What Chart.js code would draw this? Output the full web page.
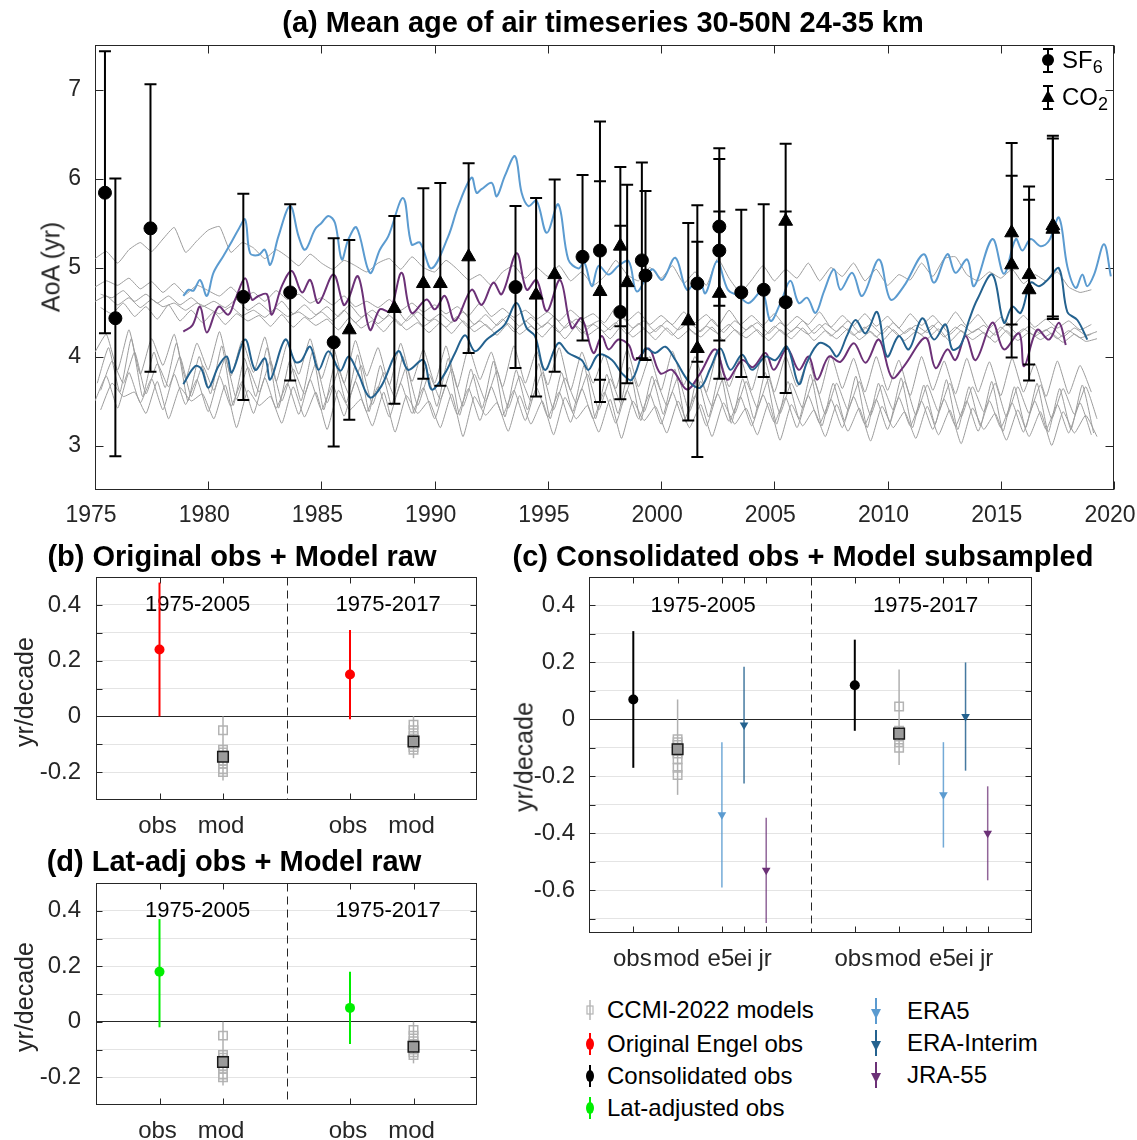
<!DOCTYPE html>
<html>
<head>
<meta charset="utf-8">
<title>Mean age of air timeseries</title>
<script src="https://cdn.jsdelivr.net/npm/chart.js@4.4.1/dist/chart.umd.min.js"></script>
<style>
  html, body { margin: 0; padding: 0; background: #fff; }
  body { position: relative; width: 1137px; height: 1140px; overflow: hidden; font-family: "Liberation Sans", Arial, sans-serif; }
  canvas { position: absolute; }
  .txt { position: absolute; white-space: nowrap; color: #000; line-height: 1; }
  .ttl { font-weight: bold; font-size: 29px; transform: translate(-50%, -50%); }
  .ylab { font-size: 25px; color: #262626; transform: translate(-50%, -50%) rotate(-90deg); }
  .leg { font-size: 24px; transform: translateY(-50%); }
  .leg sub { font-size: 18px; }
  svg.sym { position: absolute; overflow: visible; width: 1px; height: 1px; }
</style>
</head>
<body>
<canvas id="chartA"></canvas>
<canvas id="chartB"></canvas>
<canvas id="chartC"></canvas>
<canvas id="chartD"></canvas>

<div class="txt ttl" style="left:603px;top:22px">(a) Mean age of air timeseries 30-50N 24-35 km</div>
<div class="txt ttl" style="left:242px;top:556px">(b) Original obs + Model raw</div>
<div class="txt ttl" style="left:803px;top:556px">(c) Consolidated obs + Model subsampled</div>
<div class="txt ttl" style="left:234px;top:861px">(d) Lat-adj obs + Model raw</div>

<div class="txt ylab" style="left:51px;top:267px">AoA (yr)</div>
<div class="txt ylab" style="left:24px;top:692px">yr/decade</div>
<div class="txt ylab" style="left:524px;top:757px">yr/decade</div>
<div class="txt ylab" style="left:24px;top:997px">yr/decade</div>

<!-- legend of panel (a) -->
<svg class="sym" style="left:1048px;top:60px"><path d="M0,-11V12M-5,-11H5M-5,12H5" stroke="#000" stroke-width="2"/><circle r="6" fill="#000"/></svg>
<div class="txt leg" style="left:1062px;top:62px">SF<sub>6</sub></div>
<svg class="sym" style="left:1048px;top:97px"><path d="M0,-11V12M-5,-11H5M-5,12H5" stroke="#000" stroke-width="2"/><path d="M0,-7L6.5,5H-6.5Z" fill="#000"/></svg>
<div class="txt leg" style="left:1062px;top:99px">CO<sub>2</sub></div>

<!-- legend of the trend panels -->
<svg class="sym" style="left:590px;top:1010px"><path d="M0,-10V10" stroke="#b4b4b4" stroke-width="1.5"/><rect x="-3" y="-4" width="6" height="8" fill="none" stroke="#b4b4b4" stroke-width="1.2"/></svg>
<div class="txt leg" style="left:607px;top:1010px">CCMI-2022 models</div>
<svg class="sym" style="left:590px;top:1044px"><path d="M0,-11V11" stroke="#ff0000" stroke-width="2"/><ellipse rx="4" ry="6" fill="#ff0000"/></svg>
<div class="txt leg" style="left:607px;top:1044px">Original Engel obs</div>
<svg class="sym" style="left:590px;top:1076px"><path d="M0,-11V11" stroke="#000" stroke-width="2"/><ellipse rx="4" ry="6" fill="#000"/></svg>
<div class="txt leg" style="left:607px;top:1076px">Consolidated obs</div>
<svg class="sym" style="left:590px;top:1108px"><path d="M0,-11V11" stroke="#00ee00" stroke-width="2"/><ellipse rx="4" ry="6" fill="#00ee00"/></svg>
<div class="txt leg" style="left:607px;top:1108px">Lat-adjusted obs</div>
<svg class="sym" style="left:876px;top:1011px"><path d="M0,-13V13" stroke="#5b9bd0" stroke-width="2"/><path d="M-5,-2H5L0,8Z" fill="#5b9bd0"/></svg>
<div class="txt leg" style="left:907px;top:1011px">ERA5</div>
<svg class="sym" style="left:876px;top:1043px"><path d="M0,-13V13" stroke="#24628f" stroke-width="2"/><path d="M-5,-2H5L0,8Z" fill="#24628f"/></svg>
<div class="txt leg" style="left:907px;top:1043px">ERA-Interim</div>
<svg class="sym" style="left:876px;top:1075px"><path d="M0,-13V13" stroke="#6c3177" stroke-width="2"/><path d="M-5,-2H5L0,8Z" fill="#6c3177"/></svg>
<div class="txt leg" style="left:907px;top:1075px">JRA-55</div>

<script>
const FONT = '"Liberation Sans", Arial, sans-serif';
const TICK = '#262626';

// ---- panel (a): observed age of air ----
const sf6Year = [1975.44,1975.9,1977.45,1981.55,1983.62,1985.54,1993.57,1996.53,1997.3,1998.2,1999.15,1999.31,2001.6,2002.57,2002.57,2003.54,2004.53,2005.5];
const sf6Age  = [5.84,4.43,5.44,4.67,4.72,4.16,4.78,5.12,5.19,4.50,5.08,4.91,4.82,5.46,5.19,4.72,4.75,4.61];
const sf6Lo   = [4.26,2.88,3.83,3.51,3.73,2.99,3.87,4.18,3.74,3.52,3.98,3.96,3.94,4.57,4.18,3.77,3.77,3.59];
const sf6Hi   = [7.43,6.00,7.06,5.83,5.71,5.33,5.69,6.04,6.64,5.47,6.18,5.86,5.70,6.34,6.22,5.65,5.71,5.63];

const co2Year = [1986.23,1988.22,1989.5,1990.25,1991.5,1994.48,1995.3,1997.3,1998.2,1998.5,2001.2,2001.6,2002.57,2005.5,2015.48,2015.48,2016.25,2016.25,2017.3,2017.3];
const co2Age  = [4.30,4.54,4.82,4.82,5.12,4.69,4.92,4.73,5.24,4.83,4.40,4.09,4.71,5.52,5.39,5.03,4.92,4.75,5.47,5.43];
const co2Lo   = [3.29,3.47,3.75,3.67,4.04,3.55,3.83,3.49,4.34,3.70,3.28,2.87,3.75,4.65,4.36,3.99,3.91,3.73,4.45,4.42];
const co2Hi   = [5.31,5.58,5.89,5.95,6.17,5.78,5.99,5.97,6.13,5.93,5.50,5.29,5.63,6.39,6.40,6.03,5.91,5.76,6.48,6.45];

// ---- panel (a): reanalyses ----
const era5Year = [1978.9,1979.13,1979.35,1979.64,1979.94,1980.23,1980.67,1980.97,1981.34,1981.63,1981.85,1982.22,1982.5,1982.74,1983.1,1983.62,1983.99,1984.28,1984.72,1985.0,1985.31,1985.6,1985.9,1986.18,1986.55,1987.14,1987.58,1987.95,1988.61,1988.98,1989.35,1989.86,1990.6,1991.04,1991.63,1991.85,1992.07,1992.52,1992.74,1993.1,1993.55,1993.84,1994.14,1994.5,1994.95,1995.46,1995.9,1996.35,1996.6,1996.94,1997.24,1997.68,1998.12,1998.57,1998.93,1999.6,2000.04,2000.63,2001.14,2001.66,2001.96,2002.47,2002.95,2003.43,2003.87,2004.46,2004.83,2005.27,2005.71,2006.08,2006.45,2006.82,2007.19,2007.63,2007.92,2008.44,2008.88,2009.62,2010.13,2010.72,2011.6,2012.05,2012.64,2013.0,2013.52,2013.82,2014.63,2015.14,2015.66,2015.95,2016.32,2016.76,2017.13,2017.57,2017.94,2018.31,2018.6,2018.82,2019.12,2019.56,2019.86];
const era5Age  = [4.68,4.75,4.74,4.86,4.68,4.94,5.13,5.26,5.43,5.54,5.16,5.14,5.2,5.03,5.35,5.69,5.35,5.20,5.43,5.5,5.58,5.5,5.09,5.31,5.45,4.94,5.2,5.35,5.78,5.26,5.28,4.99,5.35,5.69,6.01,5.84,5.88,5.95,5.8,6.03,6.25,5.84,5.69,5.75,5.39,5.71,5.09,4.99,5.06,4.79,5.02,4.92,5.02,5.07,4.73,4.98,4.86,5.11,4.75,4.88,4.71,5.07,4.75,4.68,4.6,4.73,4.4,4.6,4.85,4.6,4.66,4.49,4.73,4.98,4.75,4.94,4.68,5.09,4.64,4.79,5.15,4.83,5.15,4.94,5.09,4.79,5.32,4.93,5.32,5.19,5.32,5.24,5.3,5.56,5.01,4.77,4.92,4.79,4.92,5.26,4.9];

const eraiYear = [1978.9,1979.42,1979.7,1980.01,1980.45,1980.82,1981.04,1981.63,1982.07,1982.51,1982.74,1983.4,1983.84,1984.1,1984.5,1984.87,1985.31,1985.83,1986.2,1986.62,1987.14,1987.65,1988.39,1988.83,1989.5,1989.86,1990.45,1990.9,1991.34,1991.78,1992.3,1992.66,1993.1,1993.62,1994.06,1994.43,1994.87,1995.46,1995.9,1996.49,1996.79,1997.23,1997.83,1998.27,1998.71,1999.3,1999.74,2000.19,2000.63,2001.22,2001.73,2002.18,2002.62,2003.06,2003.58,2004.02,2004.61,2005.05,2005.56,2006.08,2006.45,2006.97,2007.41,2007.77,2008.22,2008.59,2009.03,2009.54,2009.98,2010.5,2010.94,2011.53,2012.05,2012.56,2012.86,2013.23,2013.6,2013.96,2014.63,2015.14,2015.51,2015.88,2016.32,2016.69,2017.06,2017.57,2017.94,2018.38,2018.82];
const eraiAge  = [3.69,3.89,3.86,3.65,3.89,4.0,3.82,4.19,3.85,3.98,3.74,4.19,3.94,3.95,4.11,3.85,4.06,3.84,4.0,3.81,3.54,3.67,4.06,3.85,3.96,3.63,3.81,4.04,4.24,4.06,4.19,4.26,4.36,4.6,4.32,4.23,3.85,4.15,4.04,3.96,3.85,4.02,3.96,3.81,3.74,4.09,4.04,4.11,3.96,3.72,3.65,3.87,4.09,3.85,4.02,3.85,4.0,3.96,4.11,3.69,3.94,4.15,4.11,4.0,4.24,4.41,4.26,4.5,4.0,4.23,4.08,4.43,4.19,4.36,4.08,4.13,4.41,4.64,4.92,4.38,4.56,4.49,4.83,4.79,4.86,4.99,4.5,4.41,4.19];

const jraYear = [1978.9,1979.3,1979.64,1979.94,1980.45,1980.89,1981.19,1981.63,1981.93,1982.22,1982.59,1982.81,1983.25,1983.69,1984.14,1984.5,1984.87,1985.53,1985.98,1986.18,1986.62,1987.14,1987.58,1988.02,1988.54,1988.98,1989.64,1990.01,1990.45,1990.9,1991.63,1992.07,1992.59,1992.96,1993.62,1994.06,1994.5,1994.95,1995.54,1996.05,1996.49,1997.01,1997.38,1997.68,1998.12,1998.57,1998.86,1999.45,1999.97,2000.48,2001.14,2001.7,2002.4,2002.91,2003.58,2004.05,2004.61,2004.98,2005.56,2006.08,2006.52,2006.89,2007.41,2007.92,2008.51,2009.03,2009.62,2010.2,2010.72,2011.68,2012.12,2012.64,2013.0,2013.45,2013.89,2014.63,2015.14,2015.81,2016.03,2016.61,2017.13,2017.57,2017.87];
const jraAge  = [4.28,4.35,4.56,4.27,4.56,4.47,4.64,4.88,4.64,4.68,4.7,4.47,4.79,4.96,4.72,4.86,4.6,4.92,4.58,4.64,4.90,4.3,4.53,4.51,4.94,4.49,4.64,4.53,4.68,4.4,4.75,4.58,4.83,4.7,5.16,4.75,4.86,4.51,4.86,4.32,4.43,4.04,4.23,4.08,4.19,4.13,3.96,4.09,3.81,3.85,3.63,3.8,4.08,3.74,3.96,3.88,4.04,3.85,4.09,3.85,4.0,3.74,4.0,3.94,4.15,3.93,4.19,3.76,3.89,4.21,3.87,4.08,3.96,4.23,3.96,4.38,4.08,4.26,3.89,4.3,4.19,4.38,4.13];

// ---- panel (a): CCMI-2022 models, half-yearly from 1975 ----
const modelStart = 1975, modelStep = 0.5;
const modT  = [5.10,5.18,5.05,5.20,5.28,5.18,5.32,5.45,5.17,5.30, 5.42,5.46,5.17,5.28,5.22,5.10,5.20,5.12,5.02,5.15, 5.05,4.98,5.08,5.02,4.95,5.05,5.10,4.98,5.12,5.00, 4.95,5.08,4.98,4.86,4.92,4.80,4.95,5.02,4.88,5.00, 4.90,5.02,4.85,4.95,4.80,4.90,5.08,4.92,4.85,5.00, 4.88,5.02,4.82,4.95,4.80,5.10,4.88,4.72,4.86,5.02, 4.85,4.98,4.88,5.05,4.85,5.00,4.90,5.05,4.85,4.98, 4.80,4.92,4.86,5.05,4.90,5.10,5.12,4.92,4.85,4.95, 4.88,4.98,4.82,4.92,4.85,4.95,4.78,4.72,4.75];
const modU1 = [4.78,4.85,4.80,4.88,4.76,4.84,4.72,4.82,4.70,4.80, 4.74,4.68,4.78,4.66,4.72,4.62,4.74,4.64,4.70,4.60, 4.66,4.58,4.68,4.56,4.62,4.55,4.64,4.52,4.60,4.50, 4.58,4.48,4.56,4.46,4.60,4.45,4.54,4.44,4.52,4.42, 4.50,4.40,4.52,4.42,4.48,4.38,4.55,4.40,4.50,4.36, 4.46,4.36,4.50,4.38,4.47,4.34,4.52,4.36,4.46,4.35, 4.48,4.34,4.45,4.36,4.50,4.33,4.46,4.35,4.48,4.34, 4.45,4.32,4.48,4.35,4.46,4.33,4.50,4.34,4.47,4.32, 4.44,4.34,4.46,4.33,4.42,4.32,4.40,4.30,4.36];
const modU2 = [4.70,4.66,4.74,4.62,4.70,4.60,4.68,4.58,4.66,4.56, 4.62,4.55,4.64,4.52,4.60,4.50,4.62,4.48,4.58,4.47, 4.56,4.45,4.58,4.44,4.52,4.42,4.55,4.40,4.50,4.40, 4.48,4.38,4.50,4.36,4.47,4.35,4.46,4.34,4.44,4.33, 4.45,4.32,4.42,4.34,4.40,4.30,4.44,4.32,4.40,4.28, 4.40,4.30,4.38,4.28,4.42,4.27,4.40,4.30,4.38,4.26, 4.38,4.28,4.40,4.26,4.37,4.28,4.40,4.27,4.36,4.25, 4.38,4.26,4.35,4.27,4.39,4.25,4.36,4.27,4.35,4.24, 4.36,4.25,4.34,4.26,4.33,4.22,4.32,4.24,4.28];
const modU3 = [4.62,4.68,4.58,4.66,4.55,4.64,4.56,4.60,4.52,4.60, 4.54,4.48,4.56,4.46,4.52,4.44,4.54,4.45,4.50,4.42, 4.50,4.40,4.52,4.38,4.48,4.37,4.46,4.35,4.48,4.34, 4.42,4.33,4.45,4.32,4.40,4.30,4.42,4.28,4.40,4.30, 4.38,4.27,4.40,4.26,4.36,4.28,4.38,4.25,4.37,4.26, 4.35,4.24,4.38,4.25,4.34,4.26,4.36,4.24,4.35,4.22, 4.34,4.24,4.33,4.25,4.36,4.23,4.34,4.24,4.33,4.22, 4.34,4.23,4.32,4.25,4.35,4.22,4.33,4.24,4.31,4.21, 4.33,4.22,4.31,4.23,4.30,4.20,4.29,4.21,4.25];
const modU4 = [4.55,4.48,4.60,4.45,4.56,4.42,4.58,4.40,4.52,4.38, 4.50,4.36,4.48,4.40,4.46,4.34,4.47,4.33,4.44,4.35, 4.42,4.30,4.44,4.32,4.40,4.28,4.42,4.30,4.38,4.27, 4.38,4.26,4.40,4.28,4.36,4.24,4.37,4.25,4.34,4.22, 4.35,4.20,4.34,4.24,4.32,4.20,4.34,4.22,4.31,4.19, 4.32,4.20,4.30,4.22,4.33,4.18,4.30,4.21,4.30,4.18, 4.30,4.20,4.32,4.18,4.29,4.20,4.31,4.19,4.28,4.17, 4.30,4.18,4.28,4.20,4.31,4.17,4.29,4.19,4.27,4.16, 4.29,4.18,4.27,4.19,4.26,4.16,4.25,4.17,4.20];
const modL1 = [4.05,4.25,3.85,4.30,3.80,4.20,3.90,4.25,3.75,4.15, 3.85,4.28,3.78,4.18,3.82,4.22,3.72,4.15,3.80,4.20, 3.75,4.12,3.70,4.18,3.78,4.10,3.68,4.15,3.72,4.08, 3.70,4.12,3.65,4.10,3.74,4.05,3.66,4.12,3.70,4.06, 3.68,4.10,3.62,4.05,3.70,4.02,3.64,4.08,3.66,4.00, 3.62,4.06,3.68,4.00,3.60,4.05,3.66,3.98,3.62,4.04, 3.60,4.00,3.66,3.96,3.58,4.02,3.64,3.98,3.60,4.00, 3.62,3.96,3.56,4.00,3.62,3.95,3.58,3.98,3.60,3.94, 3.56,3.98,3.60,3.92,3.55,3.95,3.58,3.90,3.60];
const modL2 = [3.62,3.95,3.70,4.05,3.58,3.92,3.66,4.00,3.55,3.90, 3.62,3.98,3.52,3.88,3.60,3.95,3.50,3.86,3.58,3.92, 3.48,3.84,3.56,3.90,3.46,3.82,3.54,3.88,3.45,3.80, 3.52,3.86,3.44,3.80,3.50,3.84,3.42,3.78,3.50,3.82, 3.40,3.76,3.48,3.80,3.40,3.75,3.46,3.78,3.38,3.74, 3.45,3.77,3.38,3.72,3.44,3.76,3.36,3.72,3.42,3.75, 3.36,3.70,3.42,3.74,3.35,3.70,3.40,3.72,3.34,3.68, 3.40,3.72,3.34,3.68,3.38,3.70,3.32,3.66,3.38,3.70, 3.32,3.66,3.36,3.68,3.30,3.64,3.35,3.66,3.30];
const modL3 = [3.50,3.78,3.42,3.82,3.48,3.75,3.40,3.80,3.46,3.74, 3.38,3.78,3.44,3.72,3.36,3.76,3.42,3.70,3.35,3.74, 3.40,3.68,3.33,3.72,3.38,3.66,3.32,3.70,3.36,3.65, 3.30,3.68,3.35,3.64,3.28,3.66,3.34,3.62,3.28,3.65, 3.32,3.60,3.26,3.64,3.30,3.60,3.25,3.62,3.30,3.58, 3.24,3.60,3.28,3.56,3.22,3.58,3.27,3.55,3.22,3.57, 3.26,3.54,3.20,3.56,3.25,3.52,3.20,3.55,3.24,3.52, 3.18,3.54,3.22,3.50,3.18,3.52,3.22,3.50,3.16,3.50, 3.20,3.48,3.15,3.50,3.18,3.46,3.14,3.48,3.12];
const modL4 = [3.40,3.70,3.55,3.60,3.36,3.72,3.30,3.65,3.50,3.58, 3.30,3.68,3.20,3.62,3.45,3.55,3.25,3.66,3.32,3.60, 3.18,3.62,3.40,3.52,3.22,3.60,3.15,3.56,3.36,3.50, 3.20,3.58,3.10,3.55,3.34,3.48,3.16,3.56,3.24,3.50, 3.12,3.54,3.30,3.45,3.15,3.52,3.08,3.50,3.28,3.44, 3.14,3.50,3.20,3.46,3.10,3.48,3.24,3.42,3.12,3.48, 3.06,3.46,3.22,3.40,3.10,3.46,3.16,3.42,3.05,3.44, 3.20,3.38,3.08,3.44,3.12,3.40,3.02,3.42,3.18,3.36, 3.06,3.40,3.10,3.38,3.00,3.38,3.14,3.34,3.10];
const modL5 = [3.70,4.10,3.60,4.20,3.55,4.05,3.65,4.15,3.50,4.00, 3.58,4.12,3.45,3.98,3.55,4.10,3.42,3.95,3.50,4.05, 3.40,3.92,3.48,4.02,3.38,3.90,3.45,4.00,3.36,3.88, 3.44,3.98,3.34,3.86,3.42,3.95,3.32,3.85,3.40,3.92, 3.30,3.82,3.38,3.90,3.30,3.80,3.36,3.88,3.28,3.78, 3.35,3.86,3.26,3.76,3.32,3.84,3.25,3.75,3.30,3.82, 3.24,3.72,3.30,3.80,3.22,3.70,3.28,3.78,3.20,3.70, 3.26,3.76,3.20,3.68,3.24,3.74,3.18,3.66,3.22,3.72, 3.16,3.66,3.20,3.70,3.15,3.64,3.18,3.68,3.14];
const modelLines = [modT, modU1, modU2, modU3, modU4, modL1, modL2, modL3, modL4, modL5];
const modelShift = [0, 0, 0.25, 0, 0.25, 0, 0.25, 0, 0.25, 0.1];

const yearTicks = [1975,1980,1985,1990,1995,2000,2005,2010,2015,2020];
const ageTicks = [3,4,5,6,7];

// ---- trend panels (b), (c), (d): yr/decade, [1975-2005, 1975-2017] ----
const posObsBD = [1, 4], posModBD = [2, 5];
const tickPosBD = [1, 2, 4, 5];
const tickLabBD = ['obs', 'mod', 'obs', 'mod'];
const trendTicksBD = [-0.2,-0.1,0,0.1,0.2,0.3,0.4];

const obsOrig = [0.24, 0.15], obsOrigLo = [0.0, -0.01], obsOrigHi = [0.48, 0.31];
const obsLat  = [0.18, 0.05], obsLatLo = [-0.02, -0.08], obsLatHi = [0.37, 0.18];
const modRaw  = [-0.145, -0.09], modRawLo = [-0.23, -0.15], modRawHi = [0.0, 0.0];
const modRaw2005 = [-0.05,-0.12,-0.13,-0.14,-0.16,-0.17,-0.19,-0.20];
const modRaw2017 = [-0.03,-0.05,-0.07,-0.08,-0.10,-0.11,-0.12];

const posC = {obs: [2, 12], mod: [4, 14], e5: [6, 16], ei: [7, 17], jr: [8, 18]};
const tickPosC = [2, 4, 6, 7, 8, 12, 14, 16, 17, 18];
const tickLabC = ['obs','mod','e5','ei','jr','obs','mod','e5','ei','jr'];
const trendTicksC = [-0.7,-0.6,-0.5,-0.4,-0.3,-0.2,-0.1,0,0.1,0.2,0.3,0.4];

const obsCons = [0.07, 0.12], obsConsLo = [-0.17, -0.04], obsConsHi = [0.31, 0.28];
const modSub  = [-0.105, -0.05], modSubLo = [-0.265, -0.16], modSubHi = [0.07, 0.175];
const modSub2005 = [-0.07,-0.08,-0.09,-0.12,-0.14,-0.17,-0.195];
const modSub2017 = [0.045,-0.04,-0.06,-0.08,-0.10];
const era5Trend = [-0.335, -0.265], era5TrendLo = [-0.59, -0.45], era5TrendHi = [-0.08, -0.08];
const eraiTrend = [-0.02, 0.01], eraiTrendLo = [-0.225, -0.18], eraiTrendHi = [0.185, 0.2];
const jraTrend  = [-0.53, -0.40], jraTrendLo = [-0.715, -0.565], jraTrendHi = [-0.345, -0.235];

const C_ERA5 = '#5b9bd0', C_ERAI = '#24628f', C_JRA = '#6c3177', C_GRAY = '#9c9c9c';

// error bars drawn just under each dataset's own markers
Chart.register({
  id: 'errbars',
  beforeDatasetDraw(chart, args) {
    const ds = chart.data.datasets[args.index];
    if (!ds.errLo) return;
    const ctx = chart.ctx, ys = chart.scales.y, cap = ds.errCap || 0;
    ctx.save();
    ctx.strokeStyle = ds.errColor;
    ctx.lineWidth = ds.errWidth || 2;
    args.meta.data.forEach((p, i) => {
      const y0 = ys.getPixelForValue(ds.errLo[i]), y1 = ys.getPixelForValue(ds.errHi[i]);
      ctx.beginPath();
      ctx.moveTo(p.x, y0); ctx.lineTo(p.x, y1);
      if (cap) {
        ctx.moveTo(p.x - cap, y0); ctx.lineTo(p.x + cap, y0);
        ctx.moveTo(p.x - cap, y1); ctx.lineTo(p.x + cap, y1);
      }
      ctx.stroke();
    });
    ctx.restore();
  }
});

// matlab style box: frame, inward ticks, dashed divider, period text
function framePlugin(o) {
  return {
    id: 'frame',
    beforeDatasetsDraw(chart) {
      const {ctx, chartArea: a, scales: {x, y}} = chart;
      const L = Math.round(a.left) + 0.5, R = Math.round(a.right) - 0.5;
      const T = Math.round(a.top) + 0.5, B = Math.round(a.bottom) - 0.5;
      ctx.save();
      ctx.strokeStyle = TICK; ctx.lineWidth = 1;
      ctx.strokeRect(L, T, R - L, B - T);
      ctx.beginPath();
      o.xTicks.forEach(v => {
        const px = Math.round(x.getPixelForValue(v)) + 0.5;
        ctx.moveTo(px, B); ctx.lineTo(px, B - o.len);
        ctx.moveTo(px, T); ctx.lineTo(px, T + o.len);
      });
      o.yTicks.forEach(v => {
        const py = Math.round(y.getPixelForValue(v)) + 0.5;
        ctx.moveTo(L, py); ctx.lineTo(L + o.len, py);
        ctx.moveTo(R, py); ctx.lineTo(R - o.len, py);
      });
      ctx.stroke();
      if (o.divider !== undefined) {
        const px = Math.round(x.getPixelForValue(o.divider)) + 0.5;
        ctx.setLineDash([8, 5]);
        ctx.beginPath(); ctx.moveTo(px, T); ctx.lineTo(px, B); ctx.stroke();
        ctx.setLineDash([]);
      }
      (o.notes || []).forEach(n => {
        ctx.fillStyle = '#000';
        ctx.font = '22px ' + FONT;
        ctx.textAlign = 'center'; ctx.textBaseline = 'middle';
        ctx.fillText(n.text, x.getPixelForValue(n.x), y.getPixelForValue(n.y));
      });
      ctx.restore();
    }
  };
}

// canvas is a bit larger than the plot so chart.js label overhang never moves the plot area
function placeCanvas(id, box, area) {
  const cv = document.getElementById(id);
  cv.width = box.w; cv.height = box.h;
  cv.style.left = box.x + 'px'; cv.style.top = box.y + 'px';
  return {
    cv,
    padding: {left: 0, top: area.t - box.y, right: box.x + box.w - area.r, bottom: 0},
    yWidth: area.l - box.x,
    xHeight: box.y + box.h - area.b
  };
}

function makeOptions(g, xs, ys) {
  return {
    responsive: false, animation: false, devicePixelRatio: 1,
    layout: {padding: g.padding},
    plugins: {legend: {display: false}, tooltip: {enabled: false}},
    scales: {
      x: {
        type: 'linear', min: xs.min, max: xs.max,
        afterFit: s => { s.height = g.xHeight; },
        afterBuildTicks: s => { s.ticks = xs.ticks.map(v => ({value: v})); },
        grid: {display: false, drawTicks: false}, border: {display: false},
        ticks: {autoSkip: false, maxRotation: 0, padding: xs.pad, labelOffset: xs.shift || 0, color: TICK,
          font: {family: FONT, size: xs.size || 24}, callback: xs.label}
      },
      y: {
        type: 'linear', min: ys.min, max: ys.max,
        afterFit: s => { s.width = g.yWidth; },
        afterBuildTicks: s => { s.ticks = ys.ticks.map(v => ({value: v})); },
        grid: ys.grid || {display: false, drawTicks: false}, border: {display: false},
        ticks: {autoSkip: false, padding: ys.pad, color: TICK, font: {family: FONT, size: ys.size || 24}, callback: ys.label}
      }
    }
  };
}

// ---------- panel (a) ----------
(function () {
  const g = placeCanvas('chartA', {x: 0, y: 0, w: 1165, h: 540}, {l: 95, t: 45, r: 1114, b: 490});
  const datasets = [];
  modelLines.forEach((vals, k) => {
    datasets.push({
      data: vals.map((v, i) => ({x: modelStart + modelShift[k] + i * modelStep, y: v})),
      borderColor: C_GRAY, borderWidth: 1, pointRadius: 0, tension: 0.15, order: 10
    });
  });
  [[era5Year, era5Age, C_ERA5], [eraiYear, eraiAge, C_ERAI], [jraYear, jraAge, C_JRA]].forEach(([yr, age, c]) => {
    datasets.push({
      data: yr.map((x, i) => ({x, y: age[i]})),
      borderColor: c, borderWidth: 2, pointRadius: 0, tension: 0.35, order: 5
    });
  });
  datasets.push({
    data: sf6Year.map((x, i) => ({x, y: sf6Age[i]})), showLine: false,
    pointStyle: 'circle', pointRadius: 6.5, pointBackgroundColor: '#000', pointBorderColor: '#000', pointBorderWidth: 1,
    errLo: sf6Lo, errHi: sf6Hi, errColor: '#000', errWidth: 2, errCap: 6, order: 1
  });
  datasets.push({
    data: co2Year.map((x, i) => ({x, y: co2Age[i]})), showLine: false,
    pointStyle: 'triangle', pointRadius: 8, pointBackgroundColor: '#000', pointBorderColor: '#000', pointBorderWidth: 1,
    errLo: co2Lo, errHi: co2Hi, errColor: '#000', errWidth: 2, errCap: 6, order: 1
  });
  const opts = makeOptions(g,
    {min: 1975, max: 2020, ticks: yearTicks, pad: 12, shift: -4, size: 23, label: v => String(v)},
    {min: 2.5, max: 7.5, ticks: ageTicks, pad: 14, size: 23, label: v => String(v)});
  new Chart(g.cv, {type: 'line', data: {datasets}, options: opts,
    plugins: [framePlugin({xTicks: yearTicks, yTicks: ageTicks, len: 8})]});
})();

// ---------- trend panels ----------
function obsSet(xs, vals, lo, hi, color) {
  return {
    data: xs.map((x, i) => ({x, y: vals[i]})), showLine: false,
    pointStyle: 'circle', pointRadius: 5, pointBackgroundColor: color, pointBorderColor: color, pointBorderWidth: 0,
    errLo: lo, errHi: hi, errColor: color, errWidth: 2, order: 1
  };
}
function modelSets(xs, mean, lo, hi, each2005, each2017) {
  const one = (x, vals) => ({
    data: vals.map(v => ({x, y: v})), showLine: false,
    pointStyle: 'rect', pointRadius: 6, pointBackgroundColor: 'rgba(0,0,0,0)', pointBorderColor: '#b4b4b4', pointBorderWidth: 1.5,
    order: 3
  });
  return [
    one(xs[0], each2005), one(xs[1], each2017),
    {
      data: xs.map((x, i) => ({x, y: mean[i]})), showLine: false,
      pointStyle: 'rect', pointRadius: 7.5, pointBackgroundColor: '#9b9b9b', pointBorderColor: '#1a1a1a', pointBorderWidth: 1.5,
      errLo: lo, errHi: hi, errColor: '#b0b0b0', errWidth: 1.5, order: 2
    }
  ];
}
function reanSet(xs, vals, lo, hi, color, lineColor) {
  return {
    data: xs.map((x, i) => ({x, y: vals[i]})), showLine: false,
    pointStyle: 'triangle', pointRotation: 180, pointRadius: 5, pointBackgroundColor: color, pointBorderColor: color, pointBorderWidth: 0,
    errLo: lo, errHi: hi, errColor: lineColor, errWidth: 1.5, order: 1
  };
}
const trendLabel = v => (Math.round(v * 10) % 2 === 0 ? String(Math.round(v * 10) / 10) : '');
const trendGrid = {display: true, drawTicks: false, lineWidth: 1,
  color: c => (c.tick && Math.abs(c.tick.value) < 1e-9 ? '#262626' : '#e4e4e4')};

function makeTrendBD(id, box, area, obs, obsLo, obsHi, color) {
  const g = placeCanvas(id, box, area);
  const datasets = [obsSet(posObsBD, obs, obsLo, obsHi, color)]
    .concat(modelSets(posModBD, modRaw, modRawLo, modRawHi, modRaw2005, modRaw2017));
  const opts = makeOptions(g,
    {min: 0, max: 6, ticks: tickPosBD, pad: 12, shift: -2, label: (v, i) => tickLabBD[i]},
    {min: -0.3, max: 0.5, ticks: trendTicksBD, pad: 15, label: trendLabel, grid: trendGrid});
  new Chart(g.cv, {type: 'line', data: {datasets}, options: opts,
    plugins: [framePlugin({xTicks: tickPosBD, yTicks: trendTicksBD, len: 6, divider: 3,
      notes: [{x: 1.6, y: 0.4, text: '1975-2005'}, {x: 4.6, y: 0.4, text: '1975-2017'}]})]});
}

makeTrendBD('chartB', {x: 0, y: 537, w: 500, h: 309}, {l: 96, t: 577, r: 477, b: 800}, obsOrig, obsOrigLo, obsOrigHi, '#ff0000');
makeTrendBD('chartD', {x: 0, y: 843, w: 500, h: 297}, {l: 96, t: 883, r: 477, b: 1105}, obsLat, obsLatLo, obsLatHi, '#00ee00');

(function () {
  const g = placeCanvas('chartC', {x: 500, y: 537, w: 637, h: 443}, {l: 589, t: 577, r: 1032, b: 933});
  const datasets = [
    obsSet(posC.obs, obsCons, obsConsLo, obsConsHi, '#000'),
    reanSet(posC.e5, era5Trend, era5TrendLo, era5TrendHi, C_ERA5, 'rgba(91,155,208,0.85)'),
    reanSet(posC.ei, eraiTrend, eraiTrendLo, eraiTrendHi, C_ERAI, 'rgba(36,98,143,0.85)'),
    reanSet(posC.jr, jraTrend, jraTrendLo, jraTrendHi, C_JRA, 'rgba(108,49,119,0.75)')
  ].concat(modelSets(posC.mod, modSub, modSubLo, modSubHi, modSub2005, modSub2017));
  const opts = makeOptions(g,
    {min: 0, max: 20, ticks: tickPosC, pad: 12, shift: -1, label: (v, i) => tickLabC[i]},
    {min: -0.75, max: 0.5, ticks: trendTicksC, pad: 14, label: trendLabel, grid: trendGrid});
  new Chart(g.cv, {type: 'line', data: {datasets}, options: opts,
    plugins: [framePlugin({xTicks: tickPosC, yTicks: trendTicksC, len: 6, divider: 10,
      notes: [{x: 5.15, y: 0.4, text: '1975-2005'}, {x: 15.2, y: 0.4, text: '1975-2017'}]})]});
})();
</script>
</body>
</html>
